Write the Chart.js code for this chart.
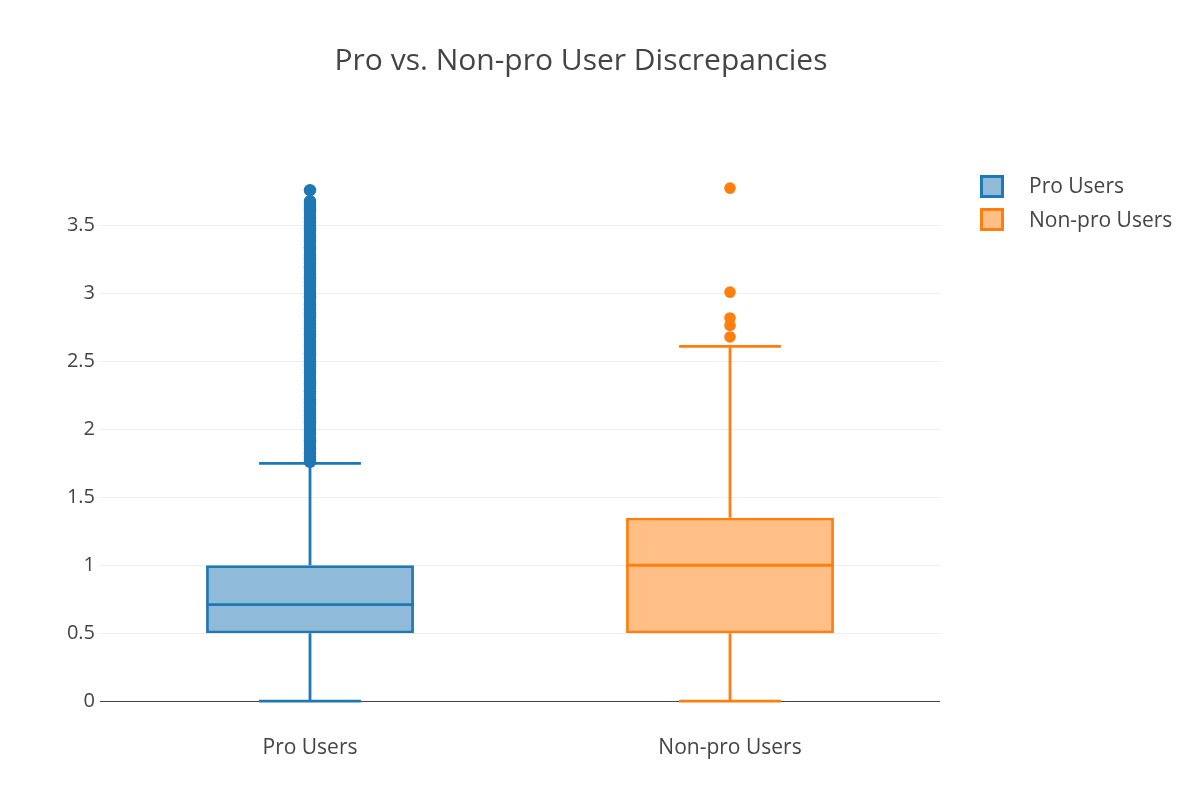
<!DOCTYPE html>
<html>
<head>
<meta charset="utf-8">
<script src="https://cdn.jsdelivr.net/npm/chart.js@4"></script>
<style>
  html, body { margin: 0; padding: 0; background: #fff; }
  #wrap { position: relative; width: 1198px; height: 806px; overflow: hidden; font-family: "Open Sans", sans-serif; color: #444; }
  #chartBox { position: absolute; left: 0; top: 0; width: 1198px; height: 806px; }
  #title { position: absolute; left: 0; width: 1162px; top: 44px; text-align: center; font-size: 30px; line-height: 30px; white-space: nowrap; }
  .leg { position: absolute; left: 980px; font-size: 21px; line-height: 21px; white-space: nowrap; }
  .leg .sw { position: absolute; left: 0; width: 24px; height: 23px; box-sizing: border-box; border: 3px solid; }
  .leg .tx { position: absolute; left: 49px; top: 0; }
</style>
</head>
<body>
<div id="wrap">
  <div id="chartBox"><canvas id="c"></canvas></div>
  <div id="title">Pro vs. Non-pro User Discrepancies</div>
  <div class="leg" style="top:175px"><div class="sw" style="top:0px;background:rgba(31,119,180,0.5);border-color:#1f77b4"></div><div class="tx">Pro Users</div></div>
  <div class="leg" style="top:209px"><div class="sw" style="top:-1px;background:rgba(255,127,14,0.5);border-color:#ff7f0e"></div><div class="tx">Non-pro Users</div></div>
</div>
<script>
// ---- data ----
const categories = ["Pro Users", "Non-pro Users"];
// [lower whisker, q1, median, q3, upper whisker]
const proBox = [0, 0.5, 0.71, 1.0, 1.75];
const nonProBox = [0, 0.5, 1.0, 1.35, 2.61];
const proOutliers = [
  1.76,1.78,1.8,1.82,1.84,1.86,1.88,1.9,1.92,1.94,1.96,1.98,2.0,2.02,2.04,2.06,2.08,2.1,2.12,2.14,
  2.16,2.18,2.2,2.22,2.24,2.26,2.28,2.3,2.32,2.34,2.36,2.38,2.4,2.42,2.44,2.46,2.48,2.5,2.52,2.54,
  2.56,2.58,2.6,2.62,2.64,2.66,2.68,2.7,2.72,2.74,2.76,2.78,2.8,2.82,2.84,2.86,2.88,2.9,2.92,2.94,
  2.96,2.98,3.0,3.02,3.04,3.06,3.08,3.1,3.12,3.14,3.16,3.18,3.2,3.22,3.24,3.26,3.28,3.3,3.32,3.34,
  3.36,3.38,3.4,3.42,3.44,3.46,3.48,3.5,3.52,3.54,3.56,3.58,3.6,3.62,3.64,3.66,3.68,3.76
];
const nonProOutliers = [2.68, 2.765, 2.82, 3.01, 3.775];
const yTicks = [0, 0.5, 1, 1.5, 2, 2.5, 3, 3.5];
const yRange = [-0.19, 3.96];

const blue = '#1f77b4', blueFill = 'rgba(31,119,180,0.5)';
const orange = '#ff7f0e', orangeFill = 'rgba(255,127,14,0.5)';
const LW = 2.8;

const boxPlugin = {
  id: 'boxParts',
  beforeDatasetsDraw(chart) {
    const ys = chart.scales.y, ctx = chart.ctx;
    chart.data.datasets.forEach((ds, i) => {
      if (!ds.stats) return;
      const el = chart.getDatasetMeta(i).data[ds.catIndex];
      if (!el) return;
      const s = ds.stats;
      const cap = el.width * 0.49;
      ctx.save();
      ctx.strokeStyle = ds.borderColor;
      ctx.lineWidth = LW;
      ctx.beginPath();
      ctx.moveTo(el.x, ys.getPixelForValue(s[1]));
      ctx.lineTo(el.x, ys.getPixelForValue(s[0]));
      ctx.moveTo(el.x, ys.getPixelForValue(s[3]));
      ctx.lineTo(el.x, ys.getPixelForValue(s[4]));
      ctx.moveTo(el.x - cap / 2, ys.getPixelForValue(s[0]));
      ctx.lineTo(el.x + cap / 2, ys.getPixelForValue(s[0]));
      ctx.moveTo(el.x - cap / 2, ys.getPixelForValue(s[4]));
      ctx.lineTo(el.x + cap / 2, ys.getPixelForValue(s[4]));
      ctx.stroke();
      ctx.restore();
    });
  },
  afterDatasetsDraw(chart) {
    const ys = chart.scales.y, ctx = chart.ctx;
    chart.data.datasets.forEach((ds, i) => {
      if (!ds.stats) return;
      const el = chart.getDatasetMeta(i).data[ds.catIndex];
      if (!el) return;
      const y = ys.getPixelForValue(ds.stats[2]);
      ctx.save();
      ctx.strokeStyle = ds.borderColor;
      ctx.lineWidth = LW;
      ctx.beginPath();
      ctx.moveTo(el.x - el.width / 2, y);
      ctx.lineTo(el.x + el.width / 2, y);
      ctx.stroke();
      ctx.restore();
    });
  }
};

new Chart(document.getElementById('c'), {
  type: 'bar',
  data: {
    labels: categories,
    datasets: [
      { label: categories[0], data: [[proBox[1], proBox[3]], null], stats: proBox, catIndex: 0,
        backgroundColor: blueFill, borderColor: blue, borderWidth: LW, borderSkipped: false,
        grouped: false, barPercentage: 0.495, categoryPercentage: 1, order: 2 },
      { label: categories[1], data: [null, [nonProBox[1], nonProBox[3]]], stats: nonProBox, catIndex: 1,
        backgroundColor: orangeFill, borderColor: orange, borderWidth: LW, borderSkipped: false,
        grouped: false, barPercentage: 0.495, categoryPercentage: 1, order: 2 },
      { type: 'scatter', label: 'Pro outliers', data: proOutliers.map(v => ({ x: categories[0], y: v })),
        pointRadius: 6.2, pointBackgroundColor: blue, pointBorderWidth: 0, backgroundColor: blue, order: 1 },
      { type: 'scatter', label: 'Non-pro outliers', data: nonProOutliers.map(v => ({ x: categories[1], y: v })),
        pointRadius: 5.8, pointBackgroundColor: orange, pointBorderWidth: 0, backgroundColor: orange, order: 1 }
    ]
  },
  options: {
    responsive: true,
    maintainAspectRatio: false,
    animation: false,
    events: [],
    layout: { padding: { left: 0, right: 258, top: 163, bottom: 0 } },
    plugins: { legend: { display: false }, title: { display: false }, tooltip: { enabled: false } },
    scales: {
      x: {
        type: 'category',
        offset: true,
        grid: { display: false, drawTicks: false },
        border: { display: false },
        ticks: { color: '#444', font: { family: 'Open Sans', size: 21 }, padding: 8, maxRotation: 0 },
        afterFit(scale) { scale.height = 79; }
      },
      y: {
        type: 'linear',
        min: yRange[0],
        max: yRange[1],
        afterBuildTicks(scale) { scale.ticks = yTicks.map(v => ({ value: v })); },
        grid: {
          drawTicks: false,
          lineWidth: 1,
          color: (c) => (c.tick && c.tick.value === 0) ? '#444' : '#eeeeee'
        },
        border: { display: false },
        ticks: { color: '#444', font: { family: 'Open Sans', size: 20 }, padding: 5,
          callback: (v) => String(v) },
        afterFit(scale) { scale.width = 100; }
      }
    }
  },
  plugins: [boxPlugin]
});
</script>
</body>
</html>
